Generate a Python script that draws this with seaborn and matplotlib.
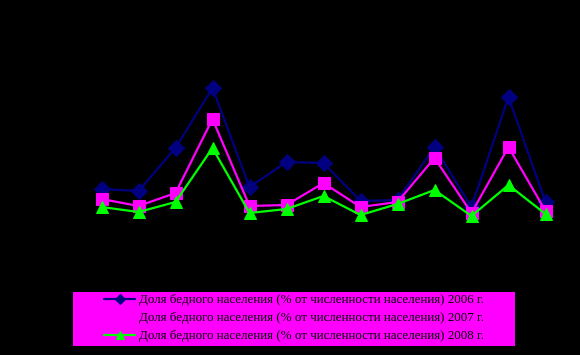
import matplotlib
matplotlib.use("Agg")
import matplotlib.pyplot as plt
from matplotlib.patches import Rectangle
import seaborn as sns
import pandas as pd

# regions (13 points), share of poor population, %
regions = list(range(13))
share_2006 = [12.75, 12.25, 23.0, 38.0, 13.25, 19.5, 19.25, 9.75, 10.0, 23.25, 8.25, 35.75, 9.5]
share_2007 = [10.25, 8.5, 11.75, 30.25, 8.5, 8.75, 14.25, 8.25, 9.5, 20.5, 6.75, 23.25, 7.25]
share_2008 = [8.25, 7.0, 9.5, 23.0, 6.75, 7.75, 11.0, 6.25, 9.0, 12.5, 6.0, 13.75, 6.5]

labels = [
    "Доля бедного населения (% от численности населения) 2006 г.",
    "Доля бедного населения (% от численности населения) 2007 г.",
    "Доля бедного населения (% от численности населения) 2008 г.",
]

df = pd.DataFrame({"region": regions, "y2006": share_2006,
                   "y2007": share_2007, "y2008": share_2008})

sns.set_style("white")
plt.rcParams['font.family'] = ['Liberation Serif', 'DejaVu Serif']

fig = plt.figure(figsize=(5.8, 3.55), dpi=100)
fig.patch.set_facecolor("black")
ax = fig.add_axes([83 / 580, 115 / 355, 481 / 580, 210 / 355])
ax.set_facecolor("black")

sns.lineplot(data=df, x="region", y="y2006", ax=ax, color="#000080", lw=1.6,
             marker="D", markersize=8, markeredgecolor="#000080", label=labels[0])
sns.lineplot(data=df, x="region", y="y2007", ax=ax, color="#FF00FF", lw=1.6,
             marker="s", markersize=8.5, markeredgecolor="#FF00FF", label=labels[1])
sns.lineplot(data=df, x="region", y="y2008", ax=ax, color="#00FF00", lw=1.6,
             marker="^", markersize=9, markeredgecolor="#00FF00", label=labels[2])

ax.set_xlim(-0.5, 12.5)
ax.set_ylim(0, 52.5)
ax.axis("off")
ax.get_legend().remove()

# legend box
fig.patches.append(Rectangle((73 / 580, 9 / 355), 442 / 580, 54 / 355,
                             transform=fig.transFigure, facecolor="#FF00FF",
                             edgecolor="none", zorder=0))

handles, labs = ax.get_legend_handles_labels()
leg = fig.legend(handles, labs, loc="upper left",
                 bbox_to_anchor=(104 / 580, 1 - 294 / 355),
                 frameon=False, fontsize=9.4, handlelength=2.4, handletextpad=0.3,
                 labelspacing=0.45, borderpad=0, borderaxespad=0, markerscale=0.7)
for t in leg.get_texts():
    t.set_color("black")

fig.savefig("out.png", dpi=100, facecolor="black")
